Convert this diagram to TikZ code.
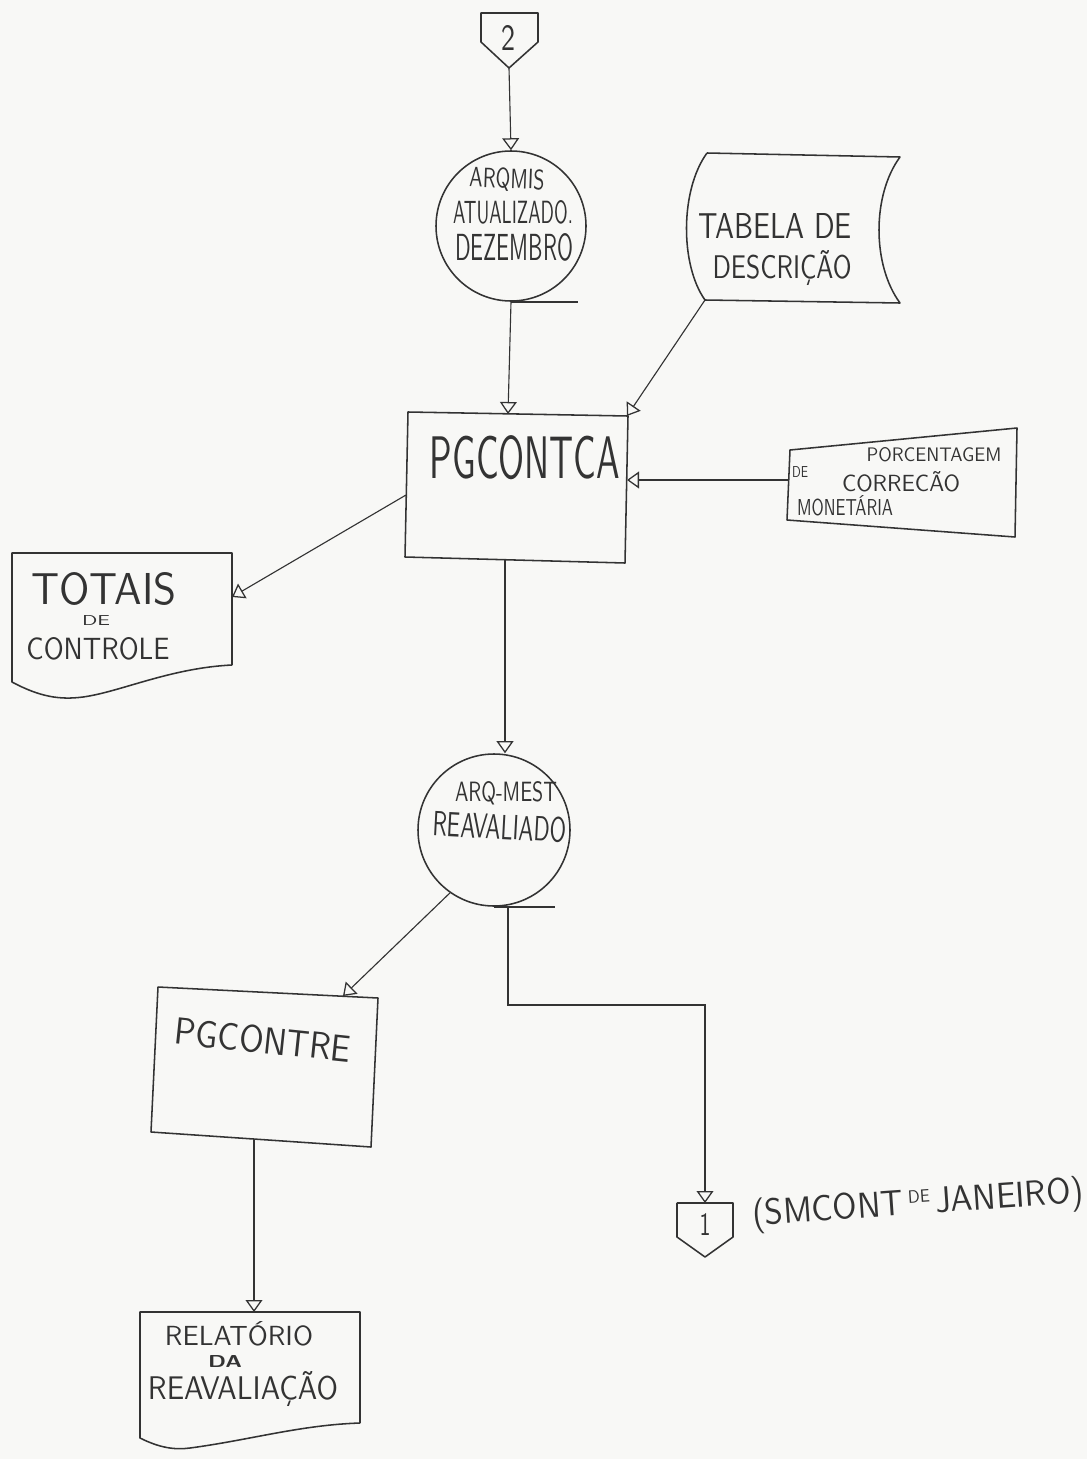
\documentclass[tikz,border=0pt]{standalone}
\usetikzlibrary{arrows.meta}
\usepackage{graphicx}
\definecolor{ink}{HTML}{333333}
\definecolor{paper}{HTML}{F8F8F6}
\newlength\pxu
\setlength\pxu{0.025cm}
% hand-lettered label squeezed to a given width and cap height (in drawing units)
\newcommand\hand[3]{\resizebox{#1\pxu}{#2\pxu}{\sffamily #3}}

\begin{document}
\begin{tikzpicture}[x=0.025cm,y=-0.025cm,
  pen/.style={draw=ink, line width=1.1pt, line join=round},
  flow/.style={draw=ink, line width=0.8pt, -{Triangle[open,length=3mm,width=4.2mm,line width=0.9pt]}},
  lbl/.style={inner sep=0pt, outer sep=0pt, text=ink},
  disk/.style={pen, circle, inner sep=0pt}]

\fill[paper] (0,0) rectangle (1087,1459);
\useasboundingbox (0,0) rectangle (1087,1459);

% ---- off-page connector 2
\draw[pen] (481,13) -- (538,13) -- (538,42) -- (509,68) -- (481,42) -- cycle;
\coordinate (off2) at (509,68);
\node[lbl] (off2txt) at (508,38) {\hand{14}{25}{2}};

% ---- tape file ARQMIS
\node[disk, minimum size=150\pxu] (arq1) at (511,226) {};
\draw[pen] (arq1.south) -- ++(67,0);
\node[lbl, rotate=-2] (arq1a) at (507,180) {\hand{75}{20}{ARQMIS}};
\node[lbl] (arq1b) at (513,212) {\hand{120}{23}{ATUALIZADO.}};
\node[lbl] (arq1c) at (514,247) {\hand{118}{27}{DEZEMBRO}};

% ---- stored table
\draw[pen] (707,153) -- (900,157)
  .. controls (872,195) and (872,265) .. (900,303)
  -- (705,300)
  .. controls (680,265) and (680,190) .. (707,153);
\coordinate (tabBL) at (705,300);
\node[lbl] (tab1) at (775,226) {\hand{154}{25}{TABELA DE}};
\node[lbl] (tab2) at (782,268) {\hand{139}{28}{DESCRIÇÃO}};

% ---- program PGCONTCA (hand-drawn, slightly out of square)
\draw[pen] (408,412) -- (628,416) -- (625,563) -- (405,557) -- cycle;
\coordinate (pgcaT) at (508,414);
\coordinate (pgcaTR) at (627,416);
\coordinate (pgcaR) at (627,480);
\coordinate (pgcaL) at (406,495);
\coordinate (pgcaB) at (505,560);
\node[lbl] (pgcatxt) at (525,458) {\hand{190}{43}{PGCONTCA}};

% ---- manual input
\draw[pen] (790,450) -- (1017,428) -- (1015,537) -- (787,520) -- cycle;
\coordinate (porc) at (789,480);
\node[lbl] (porc1) at (934,455) {\hand{135}{14}{PORCENTAGEM}};
\node[lbl] (porc2) at (800,472) {\hand{16}{11}{DE}};
\node[lbl] (porc3) at (901,482) {\hand{118}{20}{CORRECÃO}};
\node[lbl] (porc4) at (845,506) {\hand{96}{20}{MONETÁRIA}};

% ---- report TOTAIS DE CONTROLE
\draw[pen] (232,665) -- (232,553) -- (12,553) -- (12,682)
  .. controls (40,697) and (60,700) .. (83,697)
  .. controls (120,692) and (170,668) .. (232,665);
\coordinate (totR) at (232,597);
\node[lbl] (tot1) at (104,589) {\hand{145}{32}{TOTAIS}};
\node[lbl] (tot2) at (96,620) {\hand{28}{10}{DE}};
\node[lbl] (tot3) at (98,649) {\hand{143}{22}{CONTROLE}};

% ---- tape file ARQ-MEST
\node[disk, minimum size=152\pxu] (arq2) at (494,830) {};
\draw[pen] (arq2.south) -- ++(61,0);
\coordinate (arq2T) at (508,906);
\node[lbl] (arq2a) at (506,793) {\hand{102}{20}{ARQ-MEST}};
\node[lbl, rotate=-3] (arq2b) at (500,827) {\hand{134}{25}{REAVALIADO}};

% ---- program PGCONTRE
\draw[pen] (158,987) -- (378,998) -- (371,1147) -- (151,1132) -- cycle;
\coordinate (pgreT) at (343,996);
\coordinate (pgreB) at (254,1139);
\node[lbl, rotate=-6] (pgretxt) at (263,1040) {\hand{177}{27}{PGCONTRE}};

% ---- off-page connector 1
\draw[pen] (677,1203) -- (733,1203) -- (733,1237) -- (705,1257) -- (677,1237) -- cycle;
\coordinate (off1) at (705,1203);
\node[lbl] (off1txt) at (705,1224) {\hand{11}{22}{1}};
\node[lbl, rotate=4] (smcont) at (918,1205)
  {\hand{332}{27}{(SMCONT\,\raisebox{0.32em}{\scalebox{0.5}{DE}}\,JANEIRO)}};

% ---- report RELATÓRIO DA REAVALIAÇÃO
\draw[pen] (360,1423) -- (360,1312) -- (140,1312) -- (140,1438)
  .. controls (160,1448) and (175,1450) .. (190,1448)
  .. controls (250,1440) and (300,1425) .. (360,1423);
\coordinate (relT) at (254,1312);
\node[lbl] (rel1) at (239,1334) {\hand{148}{24}{RELATÓRIO}};
\node[lbl] (rel2) at (225,1361) {\hand{34}{12}{\bfseries DA}};
\node[lbl] (rel3) at (243,1389) {\hand{190}{28}{REAVALIAÇÃO}};

% ---- flow lines
\draw[flow] (off2) -- (arq1.north);
\draw[flow] (arq1.south) -- (pgcaT);
\draw[flow] (tabBL) -- (pgcaTR);
\draw[flow] (porc) -- (pgcaR);
\draw[flow] (pgcaL) -- (totR);
\draw[flow] (pgcaB) -- (pgcaB |- arq2.north);
\draw[flow] (arq2.235) -- (pgreT);
\draw[flow] (arq2T) -- ++(0,99) -| (off1);
\draw[flow] (pgreB) -- (relT);
\end{tikzpicture}
\end{document}
